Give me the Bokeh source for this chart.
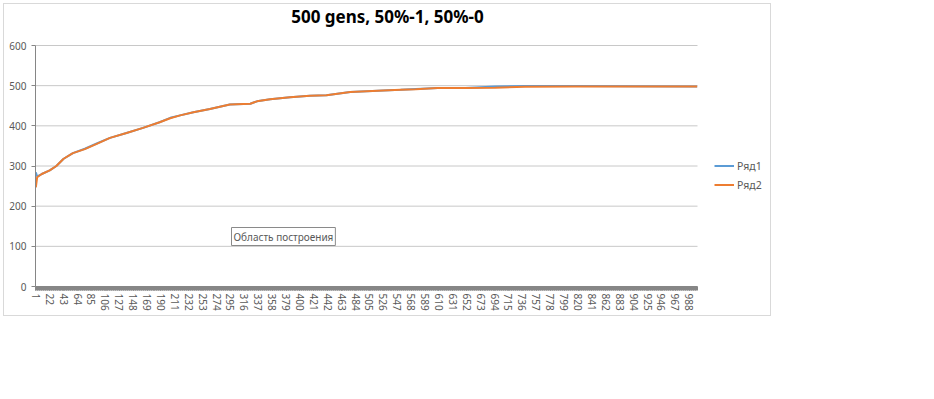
from bokeh.plotting import figure
from bokeh.models import FixedTicker, Label, Legend, LegendItem, Range1d
from bokeh.embed import file_html
from bokeh.resources import INLINE

# ---- data ----
gens = [1, 3, 10, 22, 32, 43, 57, 75, 93, 113, 138, 163, 188, 204, 219, 239, 264,
        294, 325, 335, 355, 385, 415, 440, 476, 526, 552, 575, 608, 650, 695, 740,
        815, 1000]
ryad1 = [284, 274, 280, 289, 300, 318, 332, 343, 356, 370, 382, 395, 409, 420, 426,
         434, 442, 453, 455, 461, 466, 471, 475, 476, 484, 488, 490, 492, 494, 494,
         498, 499, 499, 498]
ryad2 = [247, 272, 280, 289, 300, 318, 332, 342, 355, 370, 382, 395, 409, 419, 426,
         434, 442, 453, 455, 461, 466, 471, 475, 476, 484, 488, 490, 491, 494, 494,
         495, 497, 498, 498]
n_categories = 1000
x_tick_values = list(range(1, n_categories + 1, 21))
y_tick_values = [0, 100, 200, 300, 400, 500, 600]
series_names = ["Ряд1", "Ряд2"]
series_colors = ["#5B9BD5", "#ED7D31"]
title_text = "500 gens, 50%-1, 50%-0"
tooltip_text = "Область построения"

FONT = "Noto Sans"
TXT = "#595959"
AXIS = "#868686"

# The frame covers the whole chart area (right of the y axis, above the x axis);
# the plotted categories occupy only the left part, like the Excel plot area.
x_lo = 0.5
x_hi_data = n_categories + 0.5
x_hi_view = 0.5 + 737 / 0.662
y_top_view = 282 / (241 / 600)

p = figure(width=768, height=313, output_backend="svg", toolbar_location=None,
           x_range=Range1d(x_lo, x_hi_view), y_range=Range1d(0, y_top_view),
           min_border_left=31, min_border_right=0, min_border_top=0,
           min_border_bottom=31)
p.outline_line_color = None
p.title.visible = False
p.styles = {"border": "1px solid #d9d9d9",
            "margin-left": "3px", "margin-top": "3px"}

# axes
p.xaxis.bounds = (x_lo, x_hi_data)
p.xaxis.ticker = FixedTicker(ticks=x_tick_values,
                             minor_ticks=list(range(1, n_categories + 1)))
p.xaxis.major_label_orientation = "vertical"
p.xaxis.axis_line_color = AXIS
p.xaxis.major_tick_line_color = AXIS
p.xaxis.minor_tick_line_color = AXIS
p.xaxis.major_tick_in = 0
p.xaxis.major_tick_out = 4
p.xaxis.minor_tick_in = 0
p.xaxis.minor_tick_out = 4
p.xaxis.major_label_standoff = 3

p.yaxis.bounds = (y_tick_values[0], y_tick_values[-1])
p.yaxis.ticker = FixedTicker(ticks=y_tick_values)
p.yaxis.axis_line_color = AXIS
p.yaxis.major_tick_line_color = AXIS
p.yaxis.major_tick_in = 0
p.yaxis.major_tick_out = 4
p.yaxis.minor_tick_line_color = None
p.yaxis.major_label_standoff = 5

for ax in (p.xaxis, p.yaxis):
    ax.major_label_text_font = FONT
    ax.major_label_text_font_size = "10px"
    ax.major_label_text_color = TXT

p.xgrid.grid_line_color = None
p.ygrid.grid_line_color = None

# horizontal gridlines limited to the plot area
grid_vals = y_tick_values[1:]
p.segment(x0=[x_lo] * len(grid_vals), y0=grid_vals,
          x1=[x_hi_data] * len(grid_vals), y1=grid_vals,
          line_color="#c8c8c8", line_width=1)

r1 = p.line(gens, ryad1, line_color=series_colors[0], line_width=2)
r2 = p.line(gens, ryad2, line_color=series_colors[1], line_width=2)

legend = Legend(items=[LegendItem(label=series_names[0], renderers=[r1]),
                       LegendItem(label=series_names[1], renderers=[r2])],
                location=(679, 92), border_line_alpha=0, background_fill_alpha=0,
                label_text_font=FONT, label_text_font_size="10.5px",
                label_text_color=TXT, glyph_width=20, glyph_height=19,
                label_height=19, spacing=0, padding=0, margin=0,
                label_standoff=3)
p.add_layout(legend)

p.add_layout(Label(x=352, y=270, x_units="screen", y_units="screen",
                   text=title_text, text_font=FONT, text_font_style="bold",
                   text_font_size="17px", text_color="black",
                   text_align="center", text_baseline="middle"))

p.add_layout(Label(x=196, y=50, x_units="screen", y_units="screen",
                   text=tooltip_text, text_font=FONT, text_font_size="10px",
                   text_color=TXT, text_align="left", text_baseline="middle",
                   border_line_color="#8a8a8a", background_fill_color="white",
                   padding=2))

open("out.html", "w").write(file_html(p, INLINE))
